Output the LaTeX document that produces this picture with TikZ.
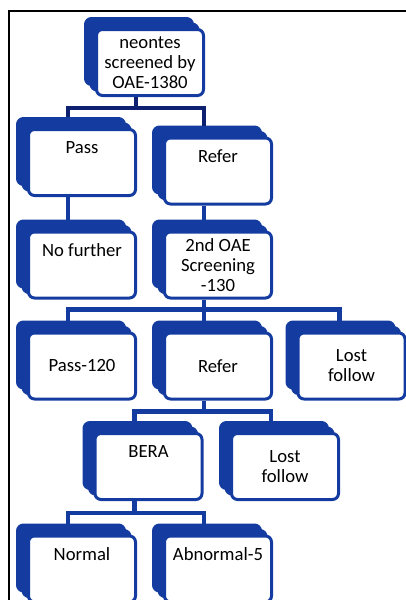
\documentclass[tikz,border=0pt]{standalone}
\usepackage{fontspec}
\setmainfont{Carlito}
\usepackage{tikz}
\usetikzlibrary{shadows,calc}
\definecolor{oaeblue}{RGB}{20,60,160}
\definecolor{oaenavy}{RGB}{14,32,112}

\tikzset{
  card/.style={draw=oaeblue, line width=2.25pt, fill=white, rounded corners=4.5pt,
    minimum width=80.25pt, minimum height=49.5pt, inner sep=0pt, align=center,
    font=\fontsize{14}{15}\selectfont,
    copy shadow={shadow xshift=-8.25pt, shadow yshift=8.25pt, draw=oaeblue, fill=oaeblue, line width=2.25pt},
    copy shadow={shadow xshift=-4.1pt, shadow yshift=4.1pt, draw=oaeblue, fill=oaeblue, line width=2.25pt}},
  toptext/.style={text depth=22pt},
  link/.style={draw=oaeblue, line width=3.5pt},
}

\begin{document}
\begin{tikzpicture}[x=0.75pt, y=-0.75pt]
    \useasboundingbox (0,0) rectangle (406,600);
    \clip (0,0) rectangle (406,600);

    % Frame
    \draw[line width=0.9pt] (9,600) -- (9,11) -- (406,11);

    % First screening
    \node[card] (top) at (150,62.5) {neontes\\screened by\\OAE-1380};
    \node[card, toptext] (pass) at (82,162.5) {Pass};
    \node[card, toptext] (refer) at (218,171) {Refer};
    \node[card, toptext] (nofurther) at (82,265) {No further};
    \node[card] (oae) at (218,265) {2nd OAE\\Screening\\-130};

    % Second screening
    \node[card] (pass120) at (82,366) {Pass-120};
    \node[card] (refer2) at (218,366) {Refer};
    \node[card] (lost) at (351.5,366) {Lost\\follow};

    % BERA
    \node[card, toptext] (bera) at (148.5,466.5) {BERA};
    \node[card] (lost2) at (285,466.5) {Lost\\follow};
    \node[card, toptext] (normal) at (82,569) {Normal};
    \node[card, toptext] (abnormal) at (218,569) {Abnormal-5};

    % Connectors
    \draw[link, draw=oaenavy] ($(top.south)+(-14,0)$) -- ++(0,11) coordinate (j1) -| ($(pass.north)+(-14,-11)$);
    \draw[link, draw=oaenavy] (j1) -| ($(refer.north)+(-14,-11)$);
    \draw[link] ($(pass.south)+(-14,0)$) -- ($(nofurther.north)+(-14,-11)$);
    \draw[link] ($(refer.south)+(-14,0)$) -- ($(oae.north)+(-14,-11)$);

    \draw[link] ($(oae.south)+(-14,0)$) -- ++(0,10) coordinate (j2) -| ($(pass120.north)+(-14,-11)$);
    \draw[link] (j2) -| ($(lost.north)+(-12,-11)$);
    \draw[link] (j2) -- ($(refer2.north)+(-14,-11)$);

    \draw[link] ($(refer2.south)+(-14,0)$) -- ++(0,11) coordinate (j3) -| ($(bera.north)+(-14,-11)$);
    \draw[link] (j3) -| ($(lost2.north)+(-14,-11)$);

    \draw[link] ($(bera.south)+(-14,0)$) -- ++(0,12) coordinate (j4) -| ($(normal.north)+(-14,-11)$);
    \draw[link] (j4) -| ($(abnormal.north)+(-14,-11)$);
\end{tikzpicture}
\end{document}
